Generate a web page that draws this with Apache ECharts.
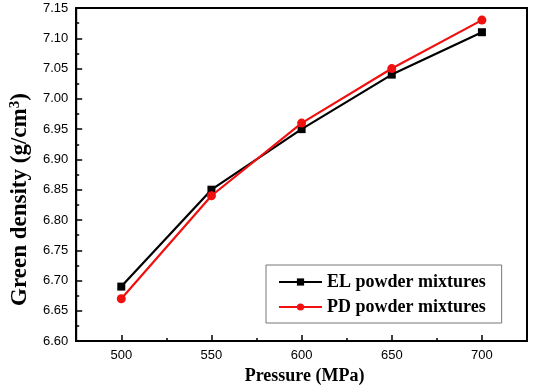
<!DOCTYPE html>
<html>
<head>
<meta charset="utf-8">
<script src="https://cdn.jsdelivr.net/npm/echarts@6/dist/echarts.min.js"></script>
<style>
  html, body { margin: 0; padding: 0; background: #fff; }
  #chart { width: 533px; height: 390px; }
</style>
</head>
<body>
<div id="chart"></div>
<script>
// 数据
var pressures = [500, 550, 600, 650, 700];
var elDensity = [6.69, 6.85, 6.95, 7.04, 7.11];
var pdDensity = [6.67, 6.84, 6.96, 7.05, 7.13];
var xMajorTicks = [500, 550, 600, 650, 700];
var xMinorTicks = [525, 575, 625, 675];

var myChart = echarts.init(document.getElementById('chart'));

function pairs(xs, ys) {
  return xs.map(function (x, i) { return [x, ys[i]]; });
}

var serifBold = { fontFamily: 'Liberation Serif', fontWeight: 'bold', color: '#000' };

var option = {
  animation: false,
  backgroundColor: '#fff',
  grid: {
    left: 65, top: 8, right: 6, bottom: 44,
    show: true,
    borderColor: '#000',
    borderWidth: 2
  },
  legend: {
    orient: 'vertical',
    left: 266,
    top: 265,
    padding: [8, 16, 7, 12],
    itemGap: 7,
    itemWidth: 43,
    itemHeight: 9,
    borderColor: '#777',
    borderWidth: 1,
    textStyle: { fontFamily: 'Liberation Serif', fontWeight: 'bold', fontSize: 18, color: '#000' },
    data: ['EL powder mixtures', 'PD powder mixtures']
  },
  xAxis: [{
    type: 'value',
    min: 475,
    max: 725,
    name: 'Pressure (MPa)',
    nameLocation: 'middle',
    nameGap: 24,
    nameTextStyle: Object.assign({ fontSize: 18, padding: [0, 0, 0, 6] }, serifBold),
    axisLine: { show: true, lineStyle: { color: '#000', width: 2 } },
    axisTick: { show: true, inside: true, length: 6, customValues: xMajorTicks, lineStyle: { color: '#000', width: 1.5 } },
    axisLabel: { customValues: xMajorTicks, color: '#000', fontFamily: 'Liberation Sans', fontSize: 13, margin: 8 },
    splitLine: { show: false }
  }, {
    type: 'value',
    min: 475,
    max: 725,
    position: 'bottom',
    axisLine: { show: false },
    axisTick: { show: true, inside: true, length: 3, customValues: xMinorTicks, lineStyle: { color: '#000', width: 1.5 } },
    axisLabel: { show: false },
    splitLine: { show: false }
  }],
  yAxis: {
    type: 'value',
    min: 6.6,
    max: 7.15,
    interval: 0.05,
    name: 'Green density (g/cm{sup|3})',
    nameLocation: 'middle',
    nameGap: 40,
    nameTextStyle: Object.assign({
      fontSize: 23,
      padding: [0, 50, 0, 0],
      rich: {
        sup: { fontFamily: 'Liberation Serif', fontWeight: 'bold', fontSize: 15, color: '#000', verticalAlign: 'top', padding: [0, 0, 10, 0] }
      }
    }, serifBold),
    axisLine: { show: true, lineStyle: { color: '#000', width: 2 } },
    axisTick: { show: true, inside: true, length: 6, lineStyle: { color: '#000', width: 1.5 } },
    minorTick: { show: true, splitNumber: 2, length: 3, lineStyle: { color: '#000', width: 1.5 } },
    axisLabel: {
      color: '#000', fontFamily: 'Liberation Sans', fontSize: 13, margin: 8,
      formatter: function (v) { return v.toFixed(2); }
    },
    splitLine: { show: false }
  },
  series: [{
    name: 'EL powder mixtures',
    type: 'line',
    data: pairs(pressures, elDensity),
    symbol: 'rect',
    symbolSize: 8,
    itemStyle: { color: '#000' },
    lineStyle: { color: '#000', width: 2.2 },
    z: 3
  }, {
    name: 'PD powder mixtures',
    type: 'line',
    data: pairs(pressures, pdDensity),
    symbol: 'circle',
    symbolSize: 9,
    itemStyle: { color: '#f01010' },
    lineStyle: { color: '#f01010', width: 2.2 },
    z: 4
  }]
};

myChart.setOption(option);
</script>
</body>
</html>
